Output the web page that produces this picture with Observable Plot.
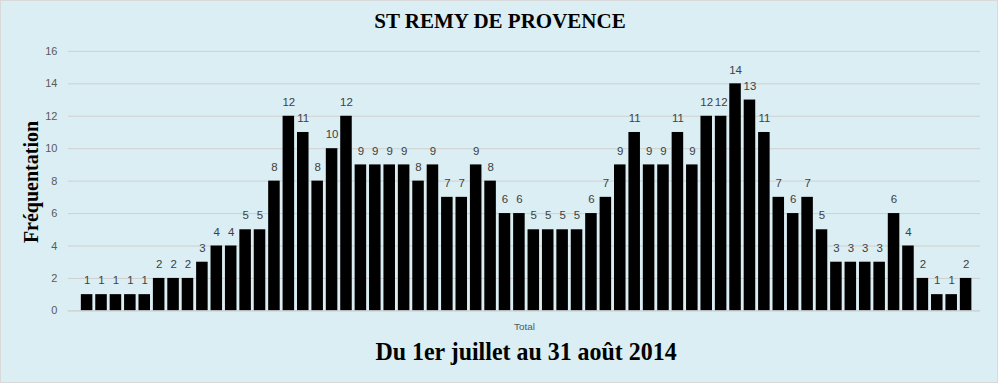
<!DOCTYPE html>
<html>
<head>
<meta charset="utf-8">
<script src="https://cdn.jsdelivr.net/npm/d3@7"></script>
<script src="https://cdn.jsdelivr.net/npm/@observablehq/plot@0.6"></script>
<style>
  html, body { margin: 0; padding: 0; }
  #wrap { position: relative; width: 998px; height: 383px; background: #daeef3; box-sizing: border-box; border: 1px solid #d9d9d9; overflow: hidden; }
  #wrap svg { position: absolute; left: -1px; top: -1px; }
  .t { position: absolute; font-family: "Liberation Serif", "Times New Roman", serif; font-weight: bold; color: #000; white-space: nowrap; }
</style>
</head>
<body>
<div id="wrap">
  <div class="t" id="title" style="left:0; width:998px; top:8px; text-align:center; font-size:21px;">ST REMY DE PROVENCE</div>
  <div class="t" id="ylab" style="left:30px; top:181px; font-size:20px; transform: translate(-50%,-50%) rotate(-90deg);">Fréquentation</div>
  <div class="t" id="sub" style="left:525px; top:336px; font-size:26px; transform: translateX(-50%) scaleX(0.92);">Du 1er juillet au 31 août 2014</div>
</div>
<script>
// Daily attendance, 1 July – 31 August 2014
const days = d3.timeDay.range(new Date(2014, 6, 1), new Date(2014, 8, 1)).map(d3.timeFormat("%d/%m"));
const values = [
  1, 1, 1, 1, 1, 2, 2, 2, 3, 4, 4, 5, 5, 8, 12, 11, 8, 10, 12, 9, 9, 9, 9, 8, 9, 7, 7, 9, 8, 6, 6,
  5, 5, 5, 5, 6, 7, 9, 11, 9, 9, 11, 9, 12, 12, 14, 13, 11, 7, 6, 7, 5, 3, 3, 3, 3, 6, 4, 2, 1, 1, 2
];
const yTicks = [0, 2, 4, 6, 8, 10, 12, 14, 16];
const categoryLabel = "Total";

const data = days.map((d, i) => ({day: d, value: values[i]}));

const chart = Plot.plot({
  width: 998,
  height: 383,
  marginLeft: 68,
  marginRight: 16,
  marginTop: 51,
  marginBottom: 72,
  style: {background: "transparent", fontFamily: "'Liberation Sans', Arial, sans-serif"},
  x: {domain: days, padding: 0.2, paddingOuter: 0.75, align: 0.6, round: false, axis: null},
  y: {domain: [0, 16], ticks: yTicks, label: null},
  marks: [
    Plot.gridY(yTicks, {stroke: "#d0d0d0", strokeOpacity: 1}),
    Plot.axisY(yTicks, {tickSize: 0, tickPadding: 11, fontSize: 11, fill: "#595959", label: null}),
    Plot.barY(data, {x: "day", y: "value", fill: "#000", insetLeft: 0, insetRight: 0}),
    Plot.text(data, {x: "day", y: "value", text: d => String(d.value), dy: -14, fontSize: 11.5, fill: "#404040"}),
    Plot.ruleY([0], {stroke: "#d0d0d0"}),
    Plot.text([categoryLabel], {frameAnchor: "bottom", dy: 19, fontSize: 10, fill: "#595959"})
  ]
});
document.getElementById("wrap").appendChild(chart);
</script>
</body>
</html>
